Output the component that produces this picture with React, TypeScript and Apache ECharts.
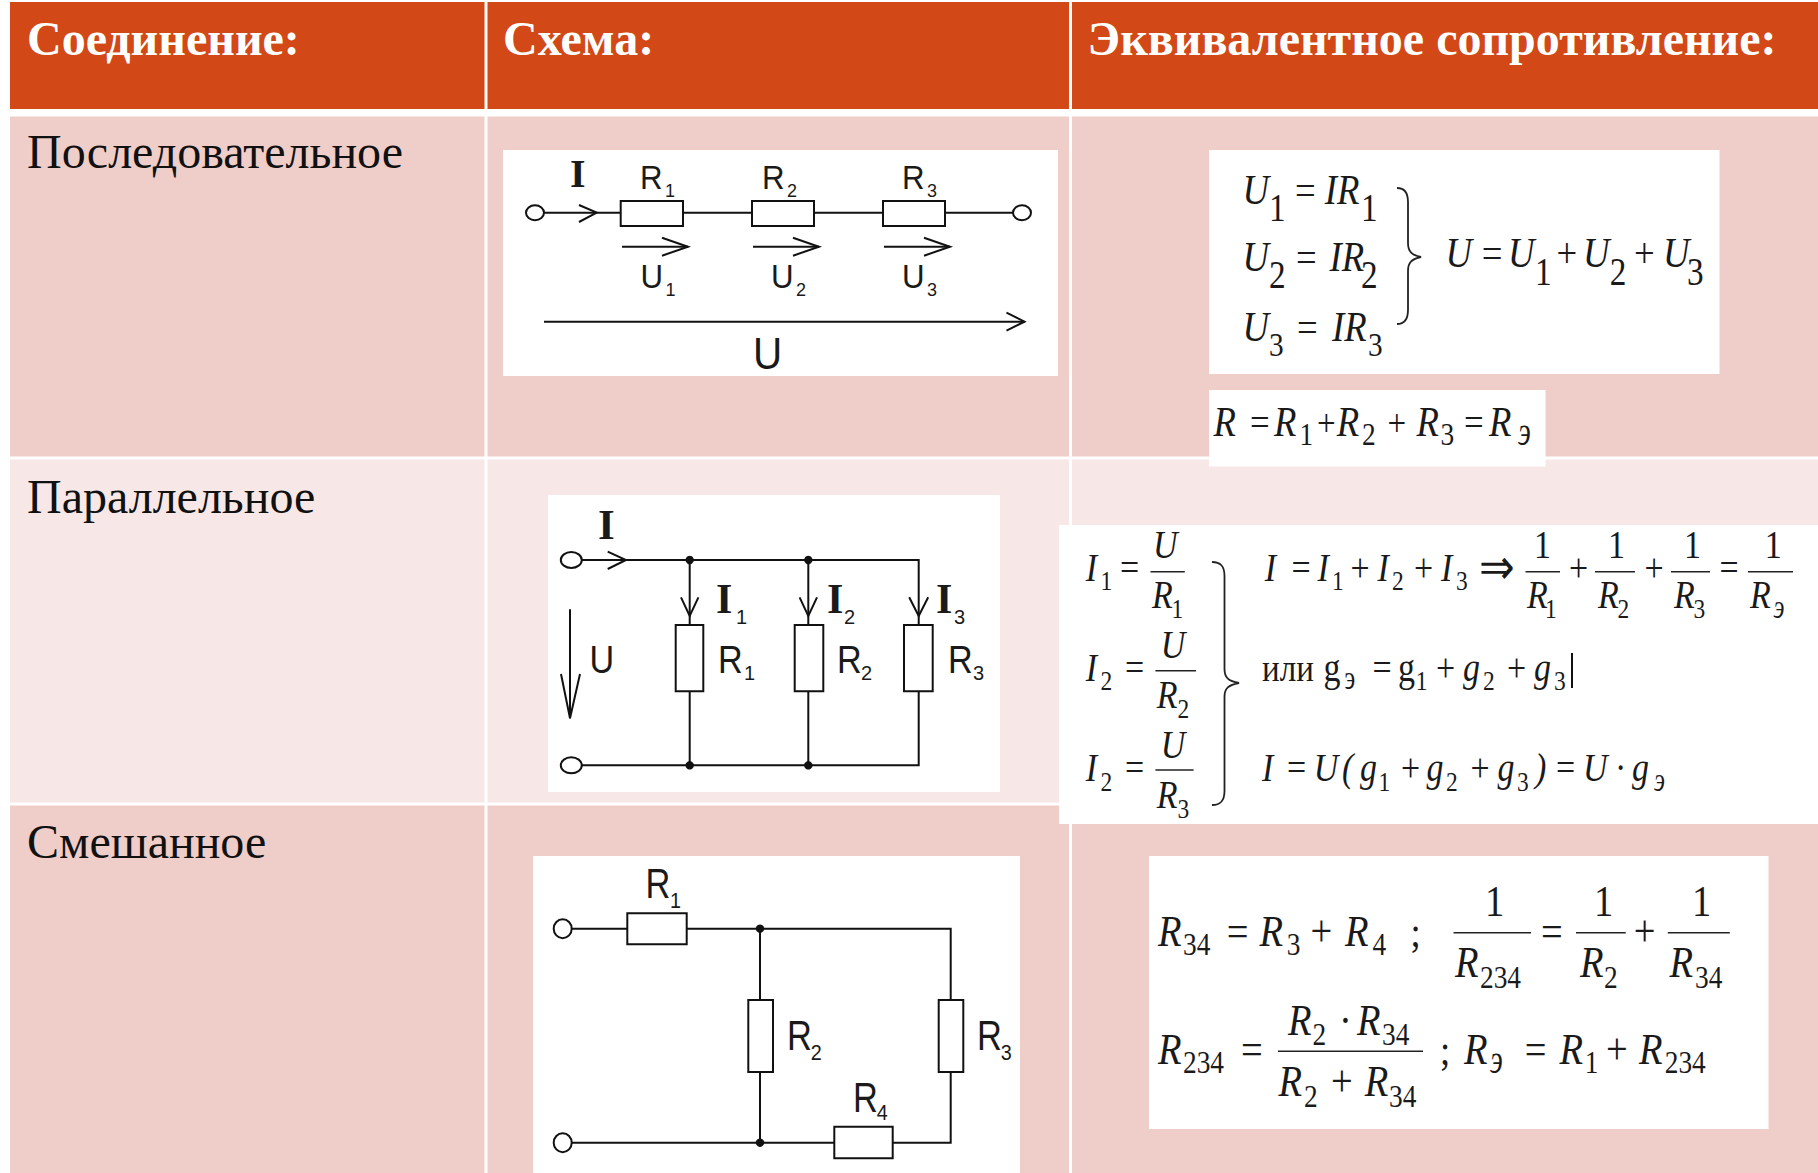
import React, { useEffect, useRef } from "react";
import * as echarts from "echarts";

const HEADERS = ["Соединение:", "Схема:", "Эквивалентное сопротивление:"];
const ROW_LABELS = ["Последовательное", "Параллельное", "Смешанное"];

const SERIF = '"Liberation Serif"';
const SANS = '"Liberation Sans"';
const INK = "#1a1a1a";

function braceD(x0: number, xm: number, xt: number, y0: number, ym: number, y1: number) {
  return `M${x0} ${y0} C${xm - 4} ${y0} ${xm} ${y0 + 4} ${xm} ${y0 + 14} L${xm} ${ym - 14} C${xm} ${ym - 5} ${xm + 4} ${ym - 2} ${xt} ${ym} C${xm + 4} ${ym + 2} ${xm} ${ym + 5} ${xm} ${ym + 14} L${xm} ${y1 - 14} C${xm} ${y1 - 4} ${xm - 4} ${y1} ${x0} ${y1}`;
}
echarts.graphic.registerShape("braceA", echarts.graphic.extendPath(braceD(1397, 1408, 1421, 188, 257, 324) as any, {}) as any);
echarts.graphic.registerShape("braceB", echarts.graphic.extendPath(braceD(1212, 1224.5, 1239, 562, 683, 805) as any, {}) as any);

type Opt = { i?: boolean; b?: boolean; sans?: boolean; sx?: number; fill?: string };
function txt(text: string, x: number, base: number, size: number, o: Opt = {}) {
  const fam = o.sans ? SANS : SERIF;
  return {
    type: "text",
    x,
    y: base - size * (o.sans ? 0.3465 : 0.3375),
    scaleX: o.sx ?? 1,
    silent: true,
    style: {
      text,
      fill: o.fill ?? INK,
      fontFamily: fam,
      fontSize: size,
      fontStyle: o.i ? "italic" : "normal",
      fontWeight: o.b ? "bold" : "normal",
      textAlign: "left",
      verticalAlign: "middle",
    },
  };
}
function rect(x0: number, y0: number, x1: number, y1: number, fill: string, stroke?: string, lw = 2) {
  return {
    type: "rect",
    silent: true,
    shape: { x: x0, y: y0, width: x1 - x0, height: y1 - y0 },
    style: stroke ? { fill, stroke, lineWidth: lw } : { fill },
  };
}
function poly(points: number[][], lw = 2, color = "#111") {
  return { type: "polyline", silent: true, shape: { points }, style: { fill: "none", stroke: color, lineWidth: lw } };
}
function oval(cx: number, cy: number, rx: number, ry: number) {
  return { type: "ellipse", silent: true, shape: { cx, cy, rx, ry }, style: { fill: "#fff", stroke: "#111", lineWidth: 2 } };
}
function dot(cx: number, cy: number) {
  return { type: "circle", silent: true, shape: { cx, cy, r: 4.2 }, style: { fill: "#111" } };
}
function res(x0: number, y0: number, x1: number, y1: number) {
  return rect(x0, y0, x1, y1, "#fff", "#111", 2);
}
function arrowR(x0: number, x1: number, y: number, bx: number, by: number, lw = 2) {
  return [poly([[x0, y], [x1, y]], lw), poly([[x1 - bx, y - by], [x1, y], [x1 - bx, y + by]], lw)];
}

// formula runs: text, x, baseline, size, italic
type Run = [string, number, number, number, number];
function runs(list: Run[], sx = 0.85) {
  return list.map(([s, x, b, size, it]) => {
    const isSub = size <= 34 && /^[0-9э]+$/.test(s);
    const f = isSub ? 1.15 : 1.08;
    const isE = s === "э";
    return txt(s, x - 1, b, size * f * (isE ? 1.25 : 1), { i: !!it, sx: isE ? sx * 0.85 : sx });
  });
}

const SERIES_FORMULA: Run[] = [
  ["U", 1243.6, 204, 40, 1], ["1", 1270, 221, 34, 0], ["=", 1296, 204, 40, 0], ["IR", 1325.7, 204, 40, 1], ["1", 1362, 221, 34, 0],
  ["U", 1243.6, 271, 40, 1], ["2", 1270, 288, 34, 0], ["=", 1297, 271, 40, 0], ["IR", 1330.5, 271, 40, 1], ["2", 1362, 288, 34, 0],
  ["U", 1243.6, 341, 40, 1], ["3", 1270, 356, 30, 0], ["=", 1298, 341, 40, 0], ["IR", 1333, 341, 40, 1], ["3", 1369, 356, 30, 0],
  ["U", 1446.5, 267, 40, 1], ["=", 1482.7, 267, 40, 0], ["U", 1509, 267, 40, 1], ["1", 1536, 285, 34, 0], ["+", 1557.6, 267, 40, 0],
  ["U", 1584, 267, 40, 1], ["2", 1610.7, 285, 34, 0], ["+", 1635, 267, 40, 0], ["U", 1664, 267, 40, 1], ["3", 1688, 285, 34, 0],
  ["R", 1214.6, 436, 40, 1], ["=", 1251, 436, 38, 0], ["R", 1275, 436, 40, 1], ["1", 1300.6, 445, 28, 0], ["+", 1318, 436, 36, 0],
  ["R", 1337.8, 436, 40, 1], ["2", 1363, 445, 28, 0], ["+", 1388.5, 436, 36, 0], ["R", 1417.5, 436, 40, 1], ["3", 1441.6, 445, 28, 0],
  ["=", 1465, 436, 38, 0], ["R", 1490, 436, 40, 1], ["э", 1519, 445, 28, 1],
];

const PARALLEL_FORMULA: Run[] = [
  ["I", 1086.8, 581, 37, 1], ["1", 1101.5, 590, 24, 0], ["=", 1121, 581, 37, 0], ["U", 1154, 558, 37, 1], ["R", 1153, 608, 37, 1], ["1", 1172.5, 618, 24, 0],
  ["I", 1086.8, 681, 37, 1], ["2", 1101.5, 690, 24, 0], ["=", 1126, 681, 37, 0], ["U", 1161.8, 658, 37, 1], ["R", 1157.8, 708, 37, 1], ["2", 1178.4, 718, 24, 0],
  ["I", 1086.8, 781.5, 37, 1], ["2", 1101.5, 791, 24, 0], ["=", 1126, 781.5, 37, 0], ["U", 1161.8, 758, 37, 1], ["R", 1157.8, 808, 37, 1], ["3", 1178.4, 818, 24, 0],
  ["I", 1265.7, 581.5, 37, 1], ["=", 1292.6, 581.5, 37, 0], ["I", 1318.6, 581.5, 37, 1], ["1", 1333, 590.5, 24, 0], ["+", 1351.5, 581.5, 37, 0],
  ["I", 1378.4, 581.5, 37, 1], ["2", 1393, 590.5, 24, 0], ["+", 1415, 581.5, 37, 0], ["I", 1442, 581.5, 37, 1], ["3", 1457, 590.5, 24, 0],
  ["⇒", 1480.4, 584, 46, 0],
  ["1", 1535, 558, 37, 0], ["R", 1528, 608, 37, 1], ["1", 1546, 618, 24, 0], ["+", 1570, 581.5, 37, 0],
  ["1", 1609, 558, 37, 0], ["R", 1599, 608, 37, 1], ["2", 1618.6, 618, 24, 0], ["+", 1645.6, 581.5, 37, 0],
  ["1", 1685, 558, 37, 0], ["R", 1675, 608, 37, 1], ["3", 1694.6, 618, 24, 0], ["=", 1720.6, 581.5, 37, 0],
  ["1", 1765.7, 558, 37, 0], ["R", 1751, 608, 37, 1], ["э", 1774.5, 618, 24, 1],
  ["или", 1263, 681, 36, 0], ["g", 1324.5, 681, 37, 0], ["э", 1345.6, 689, 24, 0], ["=", 1373.5, 681, 37, 0], ["g", 1399, 681, 37, 0], ["1", 1416.7, 690, 24, 0],
  ["+", 1437, 681, 37, 0], ["g", 1464, 681, 37, 1], ["2", 1484, 690, 24, 0], ["+", 1508, 681, 37, 0], ["g", 1535, 681, 37, 1], ["3", 1555, 690, 24, 0],
  ["I", 1263, 781.5, 37, 1], ["=", 1288, 781.5, 37, 0], ["U", 1314.7, 781.5, 37, 1], ["(", 1343, 781.5, 37, 1], ["g", 1361, 781.5, 37, 1], ["1", 1379.4, 791, 24, 0],
  ["+", 1402, 781.5, 37, 0], ["g", 1427.5, 781.5, 37, 1], ["2", 1447, 791, 24, 0], ["+", 1471.6, 781.5, 37, 0], ["g", 1498.5, 781.5, 37, 1], ["3", 1518, 791, 24, 0],
  [")", 1536, 781.5, 37, 1], ["=", 1557, 781.5, 37, 0], ["U", 1584, 781.5, 37, 1], ["·", 1616, 781.5, 37, 0], ["g", 1633, 781.5, 37, 1], ["э", 1655, 791, 24, 1],
];

const MIXED_FORMULA: Run[] = [
  ["R", 1159, 946, 42, 1], ["34", 1184, 955, 28, 0], ["=", 1227.8, 946, 42, 0], ["R", 1260.4, 946, 42, 1], ["3", 1287.8, 955, 28, 0], ["+", 1311.4, 946, 42, 0],
  ["R", 1346, 946, 42, 1], ["4", 1373.5, 955, 28, 0], [";", 1411.4, 946, 40, 0],
  ["1", 1486, 916, 42, 0], ["R", 1456, 977, 42, 1], ["234", 1481, 988, 28, 0], ["=", 1542, 946, 42, 0],
  ["1", 1595, 916, 42, 0], ["R", 1581, 977, 42, 1], ["2", 1605, 988, 28, 0], ["+", 1634.7, 946, 42, 0],
  ["1", 1693, 916, 42, 0], ["R", 1670.6, 977, 42, 1], ["34", 1696, 988, 28, 0],
  ["R", 1159, 1064, 42, 1], ["234", 1184, 1073, 28, 0], ["=", 1242, 1064, 42, 0],
  ["R", 1289, 1035, 42, 1], ["2", 1313.5, 1045, 28, 0], ["·", 1340, 1035, 42, 0], ["R", 1358, 1035, 42, 1], ["34", 1383, 1045, 28, 0],
  ["R", 1279.6, 1096, 42, 1], ["2", 1305, 1107, 28, 0], ["+", 1332, 1096, 42, 0], ["R", 1365.7, 1096, 42, 1], ["34", 1390, 1107, 28, 0],
  [";", 1441, 1064, 40, 0], ["R", 1465, 1064, 42, 1], ["э", 1491, 1073, 28, 1], ["=", 1525.7, 1064, 42, 0], ["R", 1560.4, 1064, 42, 1], ["1", 1585.7, 1073, 28, 0],
  ["+", 1607, 1064, 42, 0], ["R", 1640, 1064, 42, 1], ["234", 1665.7, 1073, 28, 0],
];

function buildElements() {
  const HEAD = "#D24816";
  const R1 = "#EFCDC9";
  const R2 = "#F7E8E7";
  const els: any[] = [];
  // table cells
  const cols = [[10, 484.5], [487.5, 1069], [1072, 1818]];
  cols.forEach(([a, b]) => {
    els.push(rect(a, 2, b, 109, HEAD));
    els.push(rect(a, 116.5, b, 456.5, R1));
    els.push(rect(a, 459.5, b, 802.5, R2));
    els.push(rect(a, 805.5, b, 1173, R1));
  });
  // headers / row labels
  const hx = [27, 503, 1087.6];
  HEADERS.forEach((h, i) => els.push(txt(h, hx[i], 55, 48, { b: true, fill: "#fff" })));
  const ry = [167.5, 513, 857.5];
  ROW_LABELS.forEach((r, i) => els.push(txt(r, 27, ry[i], 48, { fill: "#111" })));

  // white boxes
  els.push(rect(503, 150, 1058, 376, "#fff"));
  els.push(rect(1209, 150, 1719.5, 374, "#fff"));
  els.push(rect(1209, 390, 1545.5, 466.5, "#fff"));
  els.push(rect(548, 495, 1000, 792, "#fff"));
  els.push(rect(1059, 525, 1818, 824, "#fff"));
  els.push(rect(533, 856, 1020, 1173, "#fff"));
  els.push(rect(1149, 856, 1768.5, 1129, "#fff"));

  // Series circuit
  els.push(poly([[544, 212.7], [1013, 212.7]]));
  els.push(oval(535, 212.7, 9, 7.5), oval(1022, 212.7, 9, 7.5));
  els.push(res(620.7, 201, 683, 226), res(752, 201, 814, 226), res(883, 201, 945, 226));
  els.push(poly([[579, 205], [596.7, 212.7], [579, 222]]));
  [[622, 688], [753, 819], [884, 950]].forEach(([a, b]) => els.push(...arrowR(a, b, 246.7, 26, 9)));
  els.push(...arrowR(544, 1024.5, 321.7, 18, 9));
  els.push(txt("I", 570, 187, 40, { b: true }));
  [[640, "1"], [762, "2"], [902, "3"]].forEach(([x, s]: any) => {
    els.push(txt("R", x, 189, 34, { sans: true, sx: 0.92 }));
    els.push(txt(s, x + 25, 197, 18, { sans: true }));
  });
  [[640.5, "1"], [771, "2"], [902, "3"]].forEach(([x, s]: any) => {
    els.push(txt("U", x, 288, 34, { sans: true, sx: 0.92 }));
    els.push(txt(s, x + 25, 296, 18, { sans: true }));
  });
  els.push(txt("U", 753, 369, 44, { sans: true, sx: 0.92 }));

  // Parallel circuit
  els.push(poly([[581.7, 560], [918.7, 560], [918.7, 625]]));
  els.push(poly([[918.7, 691.3], [918.7, 765.3], [581.7, 765.3]]));
  els.push(poly([[689.7, 560], [689.7, 765.3]]), poly([[808.3, 560], [808.3, 765.3]]));
  els.push(oval(571.3, 560, 10.5, 8), oval(571.3, 765.3, 10.5, 8));
  els.push(res(675.7, 625, 703.3, 691.3), res(794.7, 625, 823.3, 691.3), res(904, 625, 932.7, 691.3));
  els.push(dot(689.7, 560), dot(808.3, 560), dot(689.7, 765.3), dot(808.3, 765.3));
  els.push(poly([[607.7, 551.7], [626, 560], [607.7, 569]]));
  [[689.7, 8.7], [808.3, 8.7], [918.7, 9.5]].forEach(([x, d]) => {
    els.push(poly([[x - d, 597.3], [x, 616], [x + d, 597.3]]));
  });
  els.push(poly([[570, 609.3], [570, 718.3]]));
  els.push(poly([[561, 674], [570, 718.3], [580, 674]]));
  els.push(txt("I", 598, 539, 43, { b: true }));
  [[716, "1", 736], [827, "2", 844], [936, "3", 954]].forEach(([x, s, sxp]: any) => {
    els.push(txt("I", x, 613.3, 42, { b: true }));
    els.push(txt(s, sxp, 624.3, 20, { sans: true }));
  });
  [[718, "1", 744], [837, "2", 861], [948, "3", 973]].forEach(([x, s, sxp]: any) => {
    els.push(txt("R", x, 672.7, 38, { sans: true, sx: 0.9 }));
    els.push(txt(s, sxp, 680, 20, { sans: true }));
  });
  els.push(txt("U", 589.5, 672.7, 38, { sans: true, sx: 0.9 }));

  // Mixed circuit
  els.push(poly([[571.7, 928.7], [950.7, 928.7], [950.7, 1142.7], [571.7, 1142.7]]));
  els.push(poly([[760, 928.7], [760, 1142.7]]));
  els.push(oval(562.7, 928.7, 9, 9.5), oval(562.7, 1142.7, 9, 9.5));
  els.push(res(627.3, 913.3, 686.7, 944.3), res(748.3, 1000, 773, 1072), res(938.7, 1000, 963.3, 1072), res(834.3, 1126.7, 892.7, 1158.3));
  els.push(dot(760, 928.7), dot(760, 1142.7));
  [[645.5, 897.7, "1", 670, 907.3], [787, 1050, "2", 810.7, 1060], [977, 1050, "3", 1000.7, 1060], [853, 1111.7, "4", 876.7, 1120]].forEach(
    ([x, b, s, sxp, sb]: any) => {
      els.push(txt("R", x, b, 42, { sans: true, sx: 0.82 }));
      els.push(txt(s, sxp, sb, 22, { sans: true, sx: 0.9 }));
    },
  );

  // Series formula
  els.push(...runs(SERIES_FORMULA));
  els.push({ type: "braceA", silent: true, style: { fill: "none", stroke: "#222", lineWidth: 1.8 } });

  // Parallel formula
  els.push(...runs(PARALLEL_FORMULA));
  els.push({ type: "braceB", silent: true, style: { fill: "none", stroke: "#222", lineWidth: 1.8 } });
  [[1150.5, 1184.8, 571.7], [1155.4, 1196, 670.7], [1155.4, 1193.6, 770], [1525.5, 1560, 571.7], [1595, 1635, 571.7], [1671, 1710, 571.7], [1748, 1793, 571.7]].forEach(
    ([a, b, y]) => els.push(poly([[a, y], [b, y]], 1.6, "#222")),
  );
  els.push(poly([[1572, 653], [1572, 688]], 2, "#111"));

  // Mixed formula
  els.push(...runs(MIXED_FORMULA));
  [[1453.5, 1531, 932.7], [1576, 1625.7, 932.7], [1667.8, 1729.8, 932.7], [1278, 1423, 1051.3]].forEach(([a, b, y]) =>
    els.push(poly([[a, y], [b, y]], 1.6, "#222")),
  );
  return els;
}

export default function App() {
  const ref = useRef<HTMLDivElement>(null);
  useEffect(() => {
    document.body.style.margin = "0";
    document.body.style.overflow = "hidden";
    const chart = echarts.init(ref.current!, undefined, { renderer: "svg" });
    chart.setOption({
      animation: false,
      backgroundColor: "#fff",
      graphic: { elements: buildElements() },
    });
    return () => chart.dispose();
  }, []);
  return <div ref={ref} style={{ width: 1818, height: 1173 }} />;
}
